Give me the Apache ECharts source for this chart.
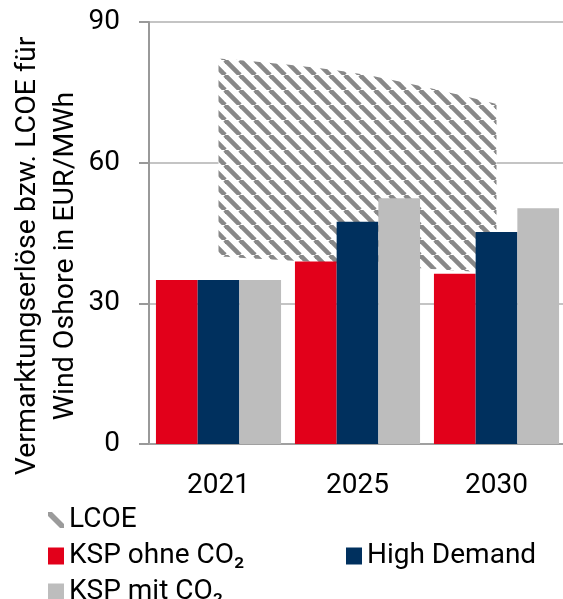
<!DOCTYPE html>
<html lang="de">
<head>
<meta charset="UTF-8">
<title>Vermarktungserlöse Wind Onshore</title>
<style>
    html, body { margin: 0; padding: 0; background: #fff; }
    #chart { width: 563px; height: 599px; }
</style>
</head>
<body>
<div id="chart"></div>
<script src="https://cdn.jsdelivr.net/npm/echarts@6/dist/echarts.min.js"></script>
<script>
    // Daten
    const years = ['2021', '2025', '2030'];
    const kspOhneCO2 = [35, 38.9, 36.3];
    const highDemand = [35, 47.4, 45.2];
    const kspMitCO2 = [35, 52.4, 50.3];
    const lcoeLow = [40, 38.3, 36.5];
    const lcoeHigh = [82.2, 79, 72.5];
    const yTicks = [0, 30, 60, 90];

    const font = 'Roboto';

    // Schraffur fuer LCOE
    function hatch() {
        let c = document.createElement('canvas');
        c.width = c.height = 15;
        let g = c.getContext('2d');
        g.fillStyle = '#fff';
        g.fillRect(0, 0, 15, 15);
        g.strokeStyle = '#888';
        g.lineWidth = 4.6;
        for (let k = -1; k <= 1; k++) {
            g.beginPath();
            g.moveTo(k * 15, 0);
            g.lineTo(k * 15 + 15, 15);
            g.stroke();
        }
        return c;
    }

    let chart = echarts.init(document.getElementById('chart'));

    let legendText = {fontFamily: font, fontSize: 28, color: '#000', lineHeight: 28};

    // eine Legende pro Eintrag, damit die Anordnung wie im Original bleibt
    function legendItem(item, left, top) {
        return {
            left: left, top: top, padding: 0,
            itemWidth: 16, itemHeight: 17, selectedMode: false,
            textStyle: legendText,
            data: [item]
        };
    }

    let option = {
        animation: false,
        grid: {left: 149, top: 22, width: 417, height: 422, outerBoundsMode: 'none'},
        legend: [
            legendItem({name: 'LCOE', icon: 'path://M0,0L4,0L16,12L16,16L12,16L0,4Z',
                itemStyle: {color: '#9b9b9b', borderWidth: 0}}, 48, 506),
            legendItem({name: 'KSP ohne CO₂', icon: 'rect'}, 48, 542),
            legendItem({name: 'High Demand', icon: 'rect'}, 346, 542),
            legendItem({name: 'KSP mit CO₂', icon: 'rect'}, 48, 578)
        ],
        xAxis: {
            type: 'category',
            data: years,
            axisLine: {lineStyle: {color: '#a0a0a0', width: 2}},
            axisTick: {length: 9, lineStyle: {color: '#a0a0a0', width: 2}},
            axisLabel: {fontFamily: font, fontSize: 28, color: '#000', margin: 28}
        },
        yAxis: {
            type: 'value',
            min: yTicks[0],
            max: yTicks[yTicks.length - 1],
            interval: yTicks[1] - yTicks[0],
            name: 'Vermarktungserlöse bzw. LCOE für\nWind Oshore in EUR/MWh',
            nameLocation: 'middle',
            nameRotate: 90,
            nameGap: 64,
            nameMoveOverlap: false,
            nameTextStyle: {fontFamily: font, fontSize: 28.5, color: '#000', lineHeight: 38, padding: [0, 46, 0, 0]},
            axisLine: {show: true, lineStyle: {color: '#999', width: 2}},
            axisTick: {show: true, length: 10, lineStyle: {color: '#999', width: 2}},
            axisLabel: {fontFamily: font, fontSize: 28, color: '#000', margin: 29},
            splitLine: {lineStyle: {color: '#c4c4c4', width: 2}}
        },
        series: [
            {
                name: 'LCOE_base',
                type: 'line',
                stack: 'lcoe',
                data: lcoeLow,
                smooth: 0.4,
                showSymbol: false,
                silent: true,
                z: 1,
                lineStyle: {opacity: 0}
            },
            {
                name: 'LCOE',
                type: 'line',
                stack: 'lcoe',
                data: lcoeHigh.map((v, i) => v - lcoeLow[i]),
                smooth: 0.4,
                showSymbol: false,
                silent: true,
                z: 1,
                lineStyle: {width: 0, opacity: 0},
                itemStyle: {color: '#9b9b9b'},
                areaStyle: {color: {image: hatch(), repeat: 'repeat'}, opacity: 1}
            },
            {
                name: 'KSP ohne CO₂', type: 'bar', data: kspOhneCO2,
                barWidth: '30%', barGap: '0%', z: 2,
                itemStyle: {color: '#e2001a'}
            },
            {
                name: 'High Demand', type: 'bar', data: highDemand,
                barWidth: '30%', barGap: '0%', z: 2,
                itemStyle: {color: '#00305e'}
            },
            {
                name: 'KSP mit CO₂', type: 'bar', data: kspMitCO2,
                barWidth: '30%', barGap: '0%', z: 2,
                itemStyle: {color: '#bdbdbd'}
            }
        ]
    };

    chart.setOption(option);
</script>
</body>
</html>
